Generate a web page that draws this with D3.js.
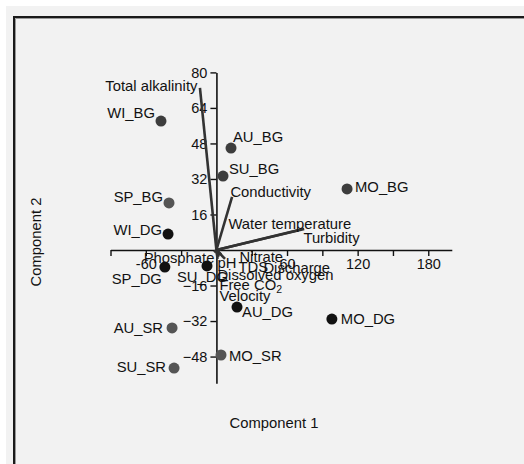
<!DOCTYPE html>
<html>
<head>
<meta charset="utf-8">
<script src="https://cdn.jsdelivr.net/npm/d3@7"></script>
<style>
  body { margin: 0; background: #fff; }
  svg { display: block; font-family: Arial, "Liberation Sans", sans-serif; }
</style>
</head>
<body>
<div id="chart"></div>
<script>
// sample scores (component 1, component 2)
const sites = ['WI_BG', 'AU_BG', 'SU_BG', 'SP_BG', 'WI_DG', 'MO_BG', 'SP_DG', 'SU_DG', 'AU_DG', 'MO_DG', 'AU_SR', 'MO_SR', 'SU_SR'];
const comp1 = [-47.1, 12.4, 5.6, -40.3, -41.1, 111.0, -43.8, -8.0, 17.5, 98.1, -37.7, 3.9, -36.0];
const comp2 = [58.1, 45.9, 33.3, 21.2, 7.2, 27.5, -7.7, -7.2, -25.7, -31.1, -35.1, -47.3, -53.2];

// variable loadings (scaled)
const variables = ['Total alkalinity', 'Conductivity', 'Water temperature', 'Turbidity', 'Nitrate', 'Phosphate', 'pH', 'TDS', 'Discharge', 'Dissolved oxygen', 'Free CO2', 'Velocity'];
const load1 = [-14.0, 13.3, 70.0, 74.6, 7.3, -2.0, 1.0, 3.0, 4.0, 2.0, 1.0, 1.0];
const load2 = [73.0, 23.9, 9.0, 9.5, -4.0, -1.0, -2.0, -2.0, -2.0, -3.0, -3.0, -4.0];

const xTicks = [-90, -60, -30, 30, 60, 90, 120, 150, 180];
const xLabels = [-60, 60, 120, 180];
const yTicks = [-48, -32, -16, 16, 32, 48, 64, 80];

// label layout: [dx, dy, anchor] from the dot
const siteLabel = {
  WI_BG: [-6, -8, 'end'], AU_BG: [2, -11, 'start'], SU_BG: [6, -7, 'start'],
  SP_BG: [-6, -6, 'end'], WI_DG: [-6, -4, 'end'], MO_BG: [8, -2, 'start'],
  SP_DG: [-3, 12, 'end'], SU_DG: [-30, 11, 'start'], AU_DG: [5, 5, 'start'],
  MO_DG: [9, 0, 'start'], AU_SR: [-9, 0, 'end'], MO_SR: [8, 1, 'start'],
  SU_SR: [-8, -1, 'end']
};
const siteColor = { BG: '#3d3d3d', DG: '#111', SR: '#555' };

// label layout for vectors: [dx, dy, anchor] from the origin pixel
const varLabel = {
  'Total alkalinity': [-19, -164, 'end'],
  'Conductivity': [14, -58, 'start'],
  'Water temperature': [12, -26, 'start'],
  'Turbidity': [87, -12, 'start'],
  'Nitrate': [23, 7, 'start'],
  'Phosphate': [-2, 8, 'end'],
  'pH': [1, 13, 'start'],
  'TDS': [22, 17, 'start'],
  'Discharge': [47, 18, 'start'],
  'Dissolved oxygen': [1, 25, 'start'],
  'Free CO2': [3, 35, 'start'],
  'Velocity': [3, 46, 'start']
};

const width = 524, height = 464;
const fs = 14.8;
const svg = d3.select('#chart').append('svg')
  .attr('width', width).attr('height', height);

svg.append('rect').attr('x', 6).attr('y', 6)
  .attr('width', width - 6).attr('height', height - 6).attr('fill', '#f2f2f2');
svg.append('path').attr('d', `M14,${height}V17H${width}`)
  .attr('fill', 'none').attr('stroke', '#1a1a1a').attr('stroke-width', 2);
svg.append('path').attr('d', `M15.5,${height}V18.5H${width}`)
  .attr('fill', 'none').attr('stroke', '#999').attr('stroke-width', 1);

const x = d3.scaleLinear().domain([-90, 200]).range([110.5, 451.8]);
const y = d3.scaleLinear().domain([-60, 80]).range([383.2, 72.4]);

const txt = '#111';

svg.append('g')
  .attr('transform', `translate(0,${y(0)})`)
  .call(d3.axisBottom(x).tickValues(xTicks).tickSize(6).tickSizeOuter(0)
    .tickFormat(d => xLabels.includes(d) ? d : ''))
  .call(g => g.select('.domain').attr('stroke', '#111').attr('stroke-width', 1.6))
  .call(g => g.selectAll('.tick line').attr('stroke', '#111').attr('stroke-width', 1.4))
  .call(g => g.selectAll('.tick text').attr('font-size', 14.5).attr('fill', txt)
    .attr('font-family', 'Arial, "Liberation Sans", sans-serif'));

svg.append('g')
  .attr('transform', `translate(${x(0)},0)`)
  .call(d3.axisLeft(y).tickValues(yTicks).tickSize(6).tickSizeOuter(0))
  .call(g => g.select('.domain').attr('stroke', '#111').attr('stroke-width', 1.6))
  .call(g => g.selectAll('.tick line').attr('stroke', '#111').attr('stroke-width', 1.4))
  .call(g => g.selectAll('.tick text').attr('font-size', 14.5).attr('fill', txt)
    .attr('font-family', 'Arial, "Liberation Sans", sans-serif'));

// loading vectors
const vars = variables.map((v, i) => ({ name: v, a: load1[i], b: load2[i] }));
svg.append('g')
  .selectAll('line')
  .data(vars)
  .join('line')
  .attr('x1', x(0)).attr('y1', y(0))
  .attr('x2', d => x(d.a)).attr('y2', d => y(d.b))
  .attr('stroke', '#333').attr('stroke-width', 2.6);

const vl = svg.append('g').attr('font-size', fs).attr('fill', txt);
vars.forEach(d => {
  const [dx, dy, anchor] = varLabel[d.name];
  const t = vl.append('text')
    .attr('x', x(0) + dx).attr('y', y(0) + dy)
    .attr('dy', '0.35em')
    .attr('text-anchor', anchor);
  if (d.name === 'Free CO2') {
    t.text('Free CO');
    t.append('tspan').attr('font-size', 10.5).attr('dy', '0.3em').text('2');
  } else {
    t.text(d.name);
  }
});

// sample points
const pts = sites.map((s, i) => ({ name: s, a: comp1[i], b: comp2[i] }));
svg.append('g')
  .selectAll('circle')
  .data(pts)
  .join('circle')
  .attr('cx', d => x(d.a)).attr('cy', d => y(d.b))
  .attr('r', 5.5)
  .attr('fill', d => d.name === 'SP_BG' ? '#555' : siteColor[d.name.split('_')[1]]);

svg.append('g').attr('font-size', fs).attr('fill', txt)
  .selectAll('text')
  .data(pts)
  .join('text')
  .attr('x', d => x(d.a) + siteLabel[d.name][0])
  .attr('y', d => y(d.b) + siteLabel[d.name][1])
  .attr('dy', '0.35em')
  .attr('text-anchor', d => siteLabel[d.name][2])
  .text(d => d.name);

// axis titles
svg.append('text')
  .attr('x', 274).attr('y', 423).attr('dy', '0.35em')
  .attr('text-anchor', 'middle').attr('font-size', fs).attr('fill', txt)
  .text('Component 1');
svg.append('text')
  .attr('transform', 'translate(36,242) rotate(-90)')
  .attr('dy', '0.35em')
  .attr('text-anchor', 'middle').attr('font-size', fs).attr('fill', txt)
  .text('Component 2');
</script>
</body>
</html>
